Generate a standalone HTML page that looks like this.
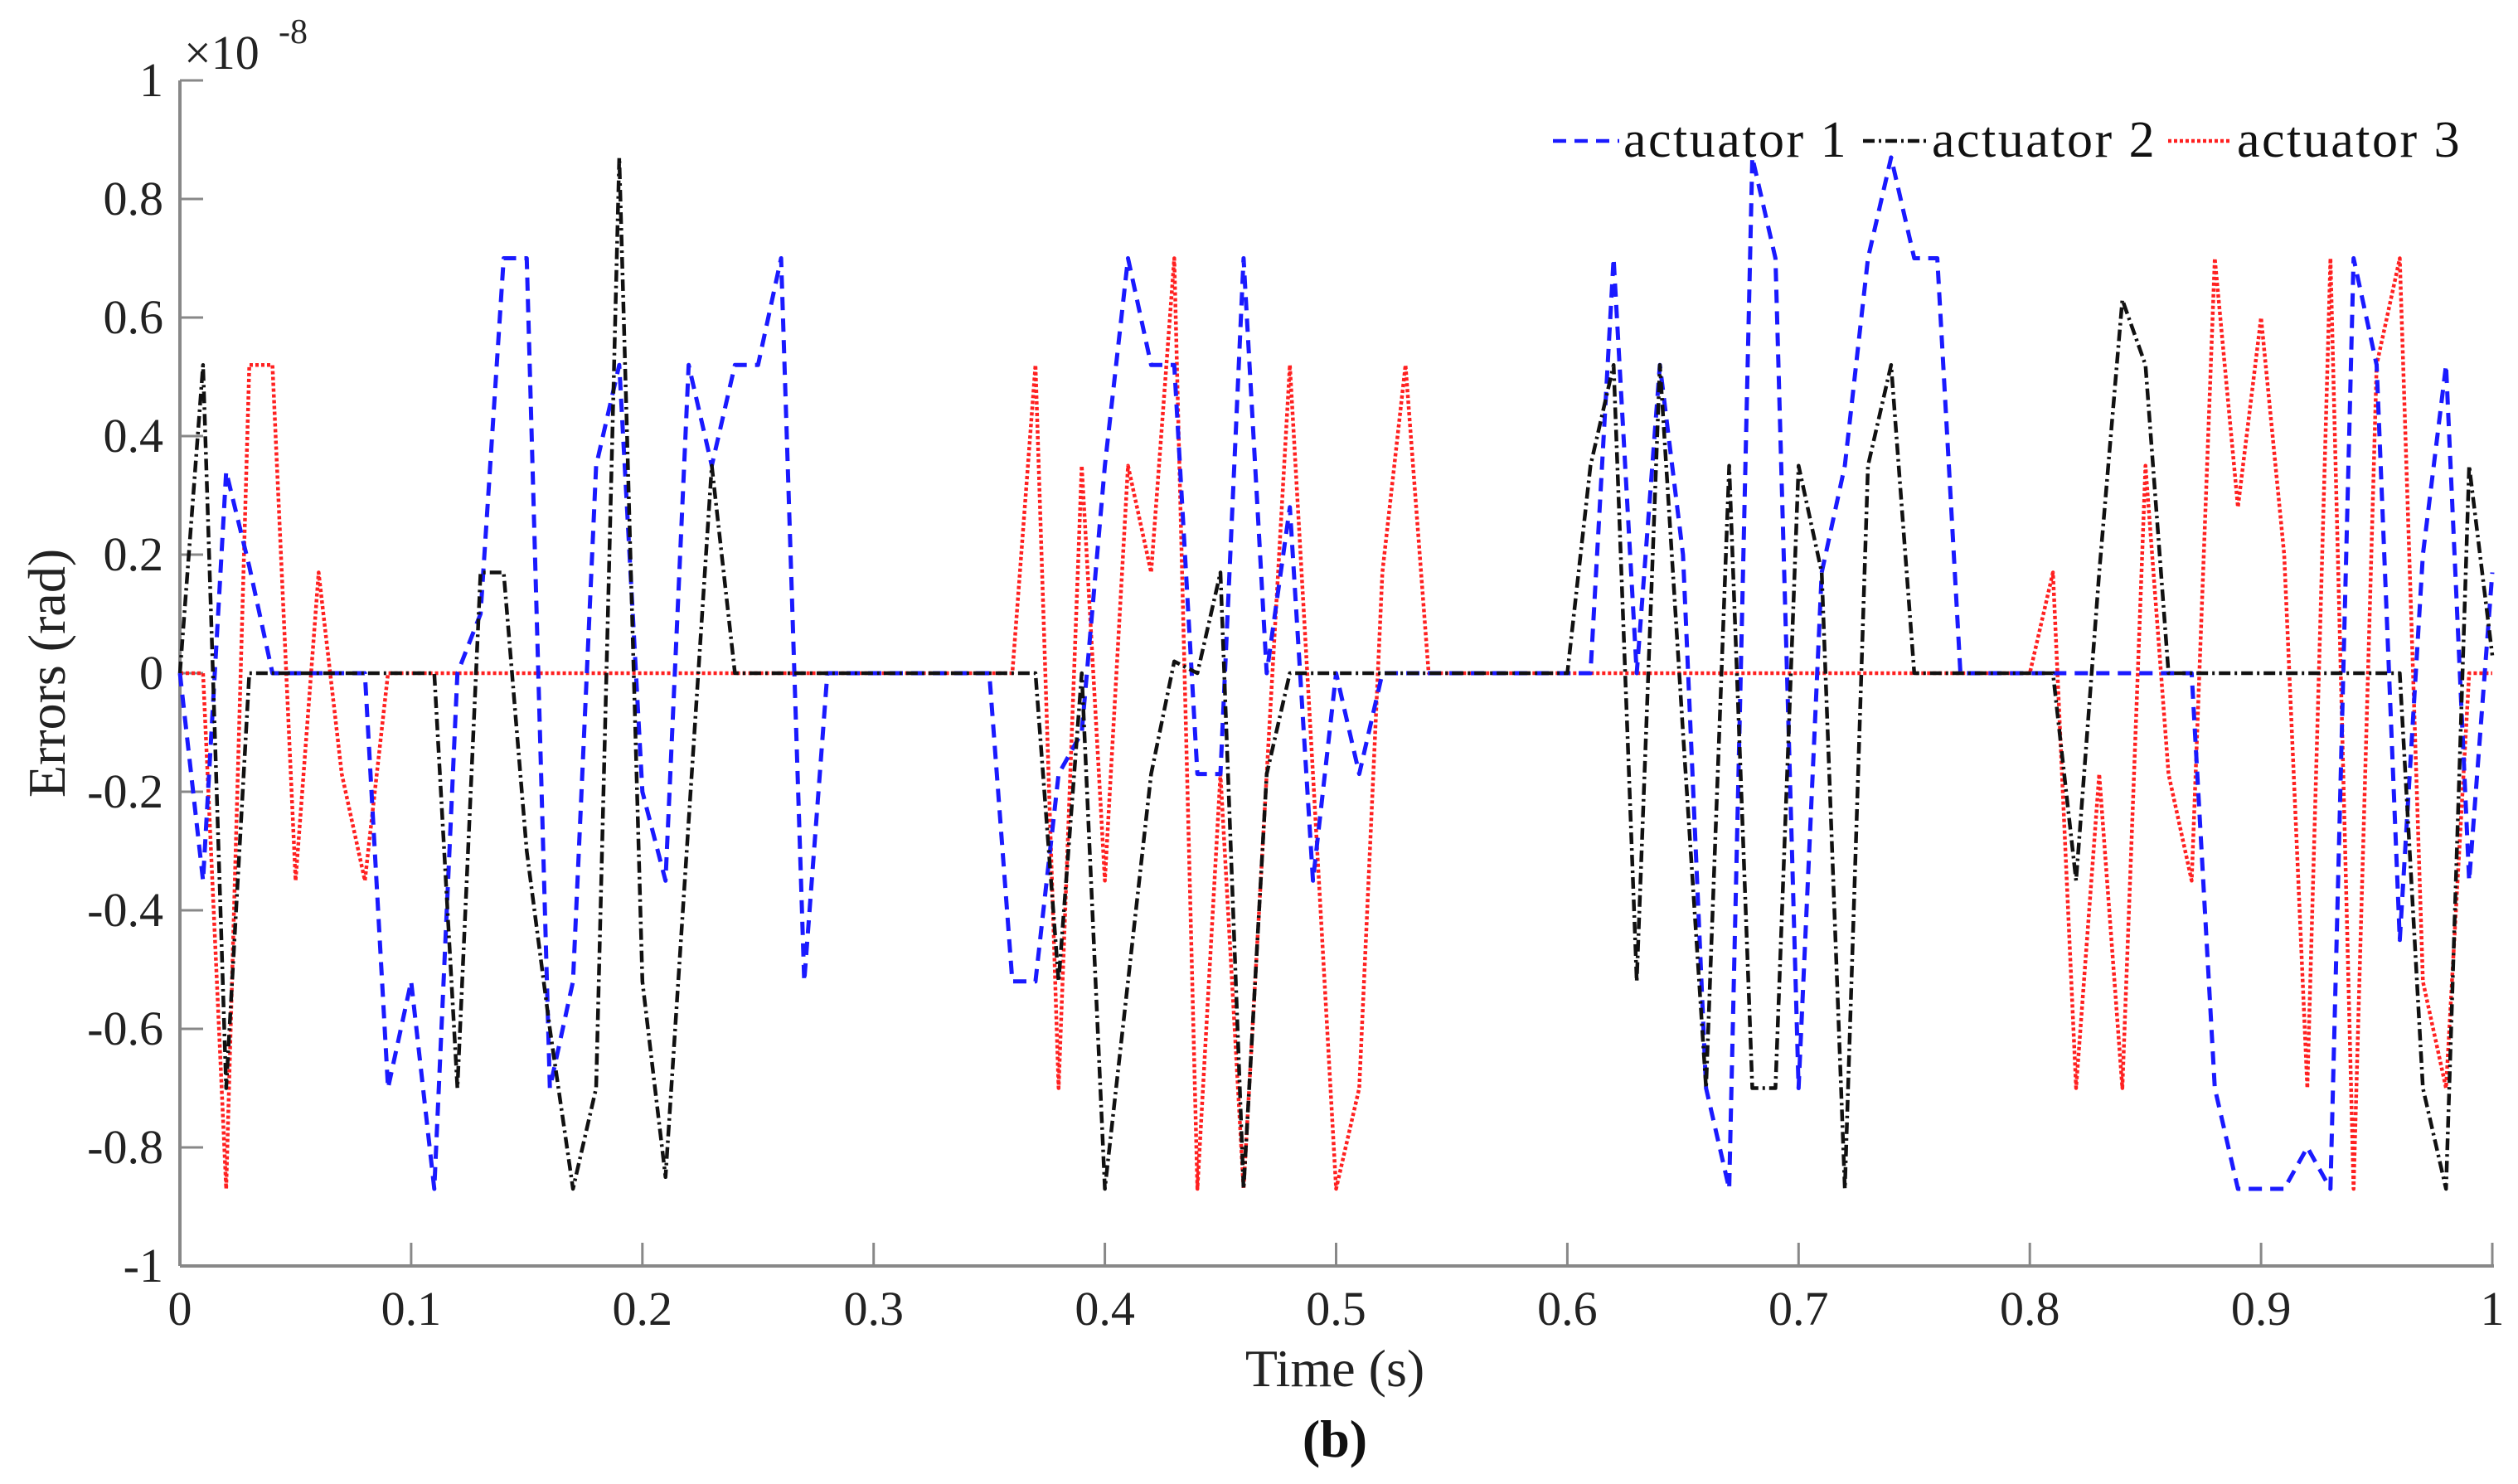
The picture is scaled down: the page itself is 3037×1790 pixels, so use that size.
<!DOCTYPE html>
<html><head><meta charset="utf-8"><style>
body{margin:0;background:#fff;}
svg{display:block;}
svg text{font-family:"Liberation Serif","Times New Roman",serif;}
</style></head><body>
<svg id="chart" width="3037" height="1790" viewBox="0 0 3037 1790" xmlns="http://www.w3.org/2000/svg" font-family="Liberation Serif, serif">
<g id="axes"></g>
<g id="series"></g>
<g id="legend"></g>
</svg>
<script>
const times = [];
for (let i = 0; i <= 100; i++) times.push(i / 100);
const actuator1 = [0,-0.35,0.34,0.18,0,0,0,0,0,-0.7,-0.52,-0.87,0,0.1,0.7,0.7,-0.7,-0.52,0.35,0.52,-0.2,-0.35,0.52,0.35,0.52,0.52,0.7,-0.52,0,0,0,0,0,0,0,0,-0.52,-0.52,-0.17,-0.1,0.35,0.7,0.52,0.52,-0.17,-0.17,0.7,0,0.28,-0.35,0,-0.17,0,0,0,0,0,0,0,0,0,0,0.7,0,0.52,0.2,-0.7,-0.87,0.87,0.7,-0.7,0.17,0.35,0.7,0.87,0.7,0.7,0,0,0,0,0,0,0,0,0,0,0,-0.7,-0.87,-0.87,-0.87,-0.8,-0.87,0.7,0.52,-0.45,0.2,0.52,-0.35,0.17];
const actuator2 = [0,0.52,-0.7,0,0,0,0,0,0,0,0,0,-0.7,0.17,0.17,-0.3,-0.6,-0.87,-0.7,0.87,-0.52,-0.85,-0.25,0.35,0,0,0,0,0,0,0,0,0,0,0,0,0,0,-0.52,0,-0.87,-0.52,-0.17,0.02,0,0.17,-0.87,-0.17,0,0,0,0,0,0,0,0,0,0,0,0,0,0.35,0.52,-0.52,0.52,-0.1,-0.7,0.35,-0.7,-0.7,0.35,0.17,-0.87,0.35,0.52,0,0,0,0,0,0,0,-0.35,0.17,0.63,0.52,0,0,0,0,0,0,0,0,0,0,0,-0.7,-0.87,0.35,0.03];
const actuator3 = [0,0,-0.87,0.52,0.52,-0.35,0.17,-0.17,-0.35,0,0,0,0,0,0,0,0,0,0,0,0,0,0,0,0,0,0,0,0,0,0,0,0,0,0,0,0,0.52,-0.7,0.35,-0.35,0.35,0.17,0.7,-0.87,-0.17,-0.87,-0.17,0.52,-0.17,-0.87,-0.7,0.17,0.52,0,0,0,0,0,0,0,0,0,0,0,0,0,0,0,0,0,0,0,0,0,0,0,0,0,0,0,0.17,-0.7,-0.17,-0.7,0.35,-0.17,-0.35,0.7,0.28,0.6,0.2,-0.7,0.7,-0.87,0.52,0.7,-0.52,-0.7,0,0];
const xTicks = [0,0.1,0.2,0.3,0.4,0.5,0.6,0.7,0.8,0.9,1];
const xTickLabels = ["0","0.1","0.2","0.3","0.4","0.5","0.6","0.7","0.8","0.9","1"];
const yTicks = [-1,-0.8,-0.6,-0.4,-0.2,0,0.2,0.4,0.6,0.8,1];
const yTickLabels = ["-1","-0.8","-0.6","-0.4","-0.2","0","0.2","0.4","0.6","0.8","1"];

const NS = "http://www.w3.org/2000/svg";
const FONT = "Liberation Serif, serif";
const L = 217, R = 3006, T = 97, B = 1527;
const xs = v => L + (v - 0) / 1 * (R - L);
const ys = v => B - (v + 1) / 2 * (B - T);
function mk(tag, attrs, parent) {
  const e = document.createElementNS(NS, tag);
  for (const k in attrs) e.setAttribute(k, attrs[k]);
  if (tag === 'text') e.setAttribute('font-family', FONT);
  parent.appendChild(e);
  return e;
}
const axes = document.getElementById('axes');
const ax = mk('line', {x1:L, y1:T, x2:L, y2:B, stroke:'#888', 'stroke-width':4}, axes);


const bx = mk('line', {x1:L, y1:B, x2:R+2, y2:B, stroke:'#888', 'stroke-width':4}, axes);


yTicks.forEach((v, i) => {
  const t = mk('line', {x1:L, y1:ys(v), x2:L+28, y2:ys(v), stroke:'#888', 'stroke-width':3}, axes);
  
  
  const tx = mk('text', {x:197, y:ys(v)+19, 'text-anchor':'end', 'font-size':58, fill:'#222'}, axes);
  tx.textContent = yTickLabels[i];
  
  
});
xTicks.forEach((v, i) => {
  const t = mk('line', {x1:xs(v), y1:B, x2:xs(v), y2:B-28, stroke:'#888', 'stroke-width':3}, axes);
  
  
  const tx = mk('text', {x:xs(v), y:1598, 'text-anchor':'middle', 'font-size':58, fill:'#222'}, axes);
  tx.textContent = xTickLabels[i];
  
  
});
const xt = mk('text', {x:1610, y:1672, 'text-anchor':'middle', 'font-size':64, fill:'#222'}, axes);
xt.textContent = 'Time (s)';


const yt = mk('text', {x:0, y:0, 'text-anchor':'middle', 'font-size':64, fill:'#222', transform:'translate(78,812) rotate(-90)'}, axes);
yt.textContent = 'Errors (rad)';


const cap = mk('text', {x:1610, y:1757, 'text-anchor':'middle', 'font-size':64, 'font-weight':'bold', fill:'#111'}, axes);
cap.textContent = '(b)';


const sc = mk('text', {x:222, y:83, 'font-size':58, fill:'#222'}, axes);
sc.textContent = '×10';


const sp = mk('text', {x:336, y:52, 'font-size':42, fill:'#222'}, axes);
sp.textContent = '-8';



const seriesDefs = [
  {data: actuator3, color:'#ff2020', dash:'4,3', w:4.5, name:'actuator-3-line'},
  {data: actuator1, color:'#1a1aff', dash:'16,10', w:5, name:'actuator-1-line'},
  {data: actuator2, color:'#111', dash:'14,5,3,5', w:4.5, name:'actuator-2-line'}
];
const sg = document.getElementById('series');
seriesDefs.forEach(s => {
  const pts = s.data.map((v, i) => xs(times[i]).toFixed(1) + ',' + ys(v).toFixed(1)).join(' ');
  const p = mk('polyline', {points:pts, fill:'none', stroke:s.color, 'stroke-width':s.w, 'stroke-dasharray':s.dash, 'stroke-linejoin':'round'}, sg);
  
  
});
const lg = document.getElementById('legend');
const legendItems = [
  {x1:1873, x2:1953, tx:1958, color:'#1a1aff', dash:'16,10', label:'actuator 1', name:'legend-entry-actuator-1'},
  {x1:2247, x2:2325, tx:2330, color:'#111', dash:'14,5,3,5', label:'actuator 2', name:'legend-entry-actuator-2'},
  {x1:2615, x2:2692, tx:2698, color:'#ff2020', dash:'4,3', label:'actuator 3', name:'legend-entry-actuator-3'}
];
legendItems.forEach(it => {
  const g = mk('g', {}, lg);
  
  
  mk('line', {x1:it.x1, y1:170, x2:it.x2, y2:170, stroke:it.color, 'stroke-width':4.5, 'stroke-dasharray':it.dash}, g);
  const t = mk('text', {x:it.tx, y:189, 'font-size':62, 'letter-spacing':2.5, fill:'#111'}, g);
  t.textContent = it.label;
});
</script>
</body></html>
